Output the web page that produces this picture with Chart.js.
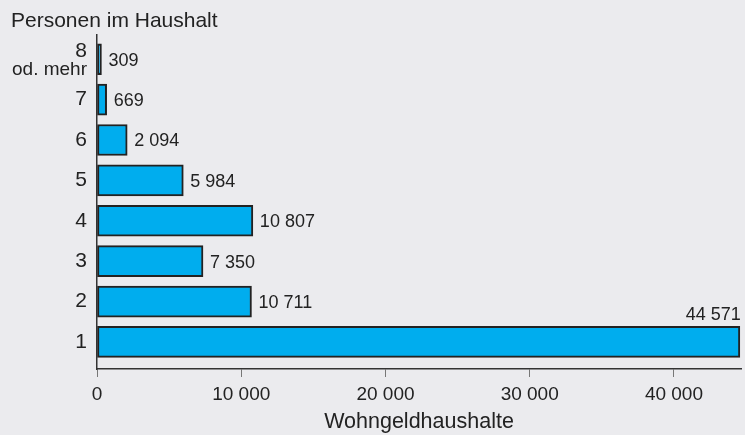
<!DOCTYPE html>
<html><head><meta charset="utf-8">
<script src="https://cdn.jsdelivr.net/npm/chart.js@4/dist/chart.umd.min.js"></script>
<style>html,body{margin:0;padding:0;background:#ebebee;}#wrap{width:745px;height:435px;position:relative;}</style>
</head><body><div id="wrap"><canvas id="c" width="745" height="435"></canvas></div>
<script>
const categories = ['1', '2', '3', '4', '5', '6', '7', ['8', 'od. mehr']];
const households = [44571, 10711, 7350, 10807, 5984, 2094, 669, 309];
const xTicks = [0, 10000, 20000, 30000, 40000];
const yAxisTitle = 'Personen im Haushalt';
const xAxisTitle = 'Wohngeldhaushalte';

const fmt = v => String(v).replace(/\B(?=(\d{3})+(?!\d))/g, ' ');
const FONT = '"Liberation Sans", Arial, Helvetica, sans-serif';
const Y_PAD = 10;

const bgPlugin = {
  id: 'bg',
  beforeDraw(chart) {
    const ctx = chart.ctx;
    ctx.save(); ctx.fillStyle = '#ebebee'; ctx.fillRect(0, 0, chart.width, chart.height); ctx.restore();
  }
};
const labelPlugin = {
  id: 'vlabels',
  afterDraw(chart) {
    const ctx = chart.ctx;
    const meta = chart.getDatasetMeta(0);
    ctx.save();
    ctx.font = '18px ' + FONT;
    ctx.fillStyle = '#222';
    const maxV = Math.max(...households);
    meta.data.forEach((bar, i) => {
      const v = households[i];
      if (v === maxV) {
        ctx.textAlign = 'right'; ctx.textBaseline = 'alphabetic';
        ctx.fillText(fmt(v), bar.x + 1, bar.y - bar.height / 2 - 6);
      } else {
        ctx.textAlign = 'left'; ctx.textBaseline = 'middle';
        ctx.fillText(fmt(v), bar.x + 7, bar.y + 1.5);
      }
    });
    const ys = chart.scales.y;
    categories.forEach((c, i) => {
      if (Array.isArray(c)) {
        ctx.font = '19px ' + FONT;
        ctx.textAlign = 'right'; ctx.textBaseline = 'alphabetic';
        ctx.fillText(c[1], ys.right - Y_PAD, ys.getPixelForValue(i + 1) + 16);
      }
    });
    ctx.font = '21px ' + FONT;
    ctx.textAlign = 'left'; ctx.textBaseline = 'alphabetic';
    ctx.fillText(yAxisTitle, 11, 26.5);
    ctx.restore();
  }
};

new Chart(document.getElementById('c'), {
  type: 'bar',
  data: {
    datasets: [{
      data: households.map((v, i) => ({ x: v, y: i + 1 })),
      backgroundColor: '#00adee',
      borderColor: '#222',
      borderWidth: 2,
      borderSkipped: false,
      barThickness: 31
    }]
  },
  options: {
    indexAxis: 'y',
    responsive: false,
    animation: false,
    devicePixelRatio: 1,
    layout: { padding: { left: 0, right: 4, top: 35, bottom: 0 } },
    plugins: { legend: { display: false }, tooltip: { enabled: false } },
    scales: {
      x: {
        type: 'linear',
        min: 0, max: 44650,
        offset: false,
        afterBuildTicks: s => { s.ticks = xTicks.map(v => ({ value: v })); },
        afterFit: s => { s.height = 66; },
        ticks: { callback: v => fmt(v), font: { size: 19, family: FONT }, color: '#222', padding: 6, maxRotation: 0 },
        grid: { display: true, drawOnChartArea: false, drawTicks: true, tickLength: 8, color: '#777', lineWidth: 1, offset: false },
        border: { display: true, color: '#333', width: 1.5 },
        title: { display: true, text: xAxisTitle, font: { size: 21.5, family: FONT }, color: '#222', padding: { top: 0, bottom: 0 } }
      },
      y: {
        type: 'linear',
        min: 0.33, max: 8.6,
        offset: false,
        afterBuildTicks: s => { s.ticks = categories.map((c, i) => ({ value: i + 1 })); },
        afterFit: s => { s.width = 97; },
        ticks: {
          callback: v => { const c = categories[v - 1]; return Array.isArray(c) ? [c[0], ''] : c; },
          font: ctx => (ctx.index === 7 ? { size: 21, family: FONT, lineHeight: '17px' } : { size: 21, family: FONT }),
          color: '#222', padding: Y_PAD, crossAlign: 'near'
        },
        grid: { display: false, drawTicks: false, tickLength: 0, offset: false },
        border: { display: true, color: '#333', width: 1.5 }
      }
    }
  },
  plugins: [bgPlugin, labelPlugin]
});
</script></body></html>
